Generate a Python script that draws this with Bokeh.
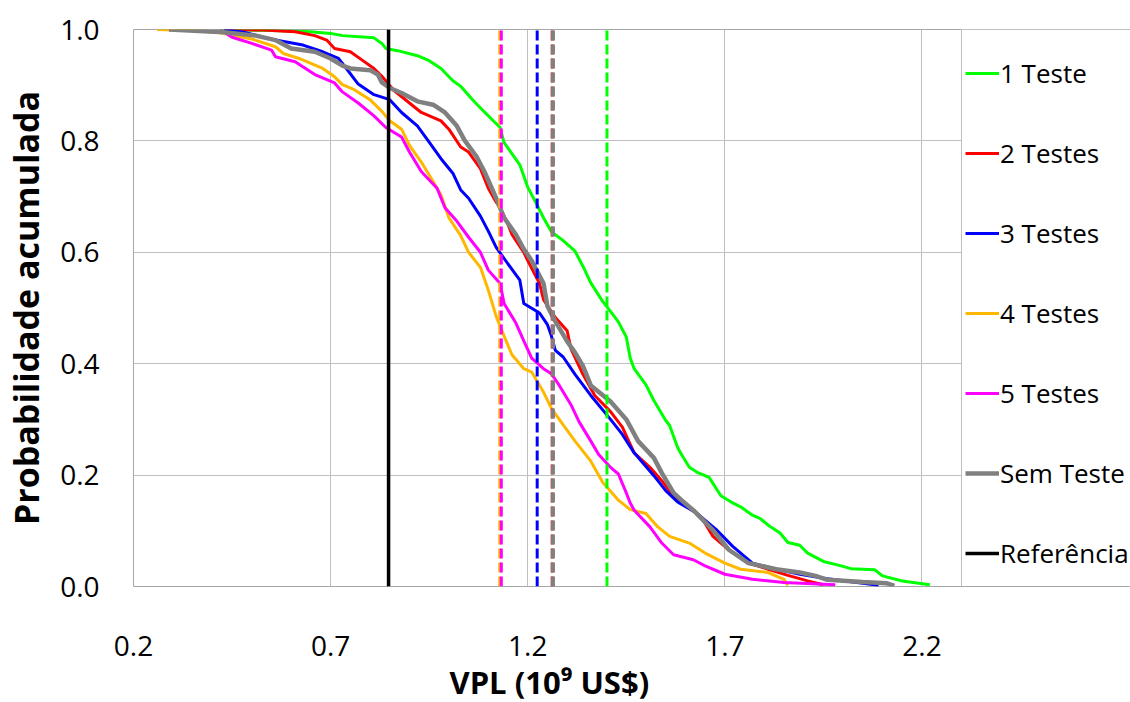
from bokeh.plotting import figure
from bokeh.models import Range1d, FixedTicker, NumeralTickFormatter, Legend, LegendItem, Title
from bokeh.embed import file_html
from bokeh.resources import INLINE

# ---------------- data ----------------
x_ticks = [0.2, 0.7, 1.2, 1.7, 2.2]
y_ticks = [0.0, 0.2, 0.4, 0.6, 0.8, 1.0]

names = ["1 Teste", "2 Testes", "3 Testes", "4 Testes", "5 Testes", "Sem Teste"]
colors = ["#00ff00", "#ff0000", "#0000ff", "#ffb800", "#ff00ff", "#808080"]

x_1teste = [0.42, 0.55, 0.65, 0.70, 0.73, 0.81, 0.83, 0.84, 0.87, 0.92, 0.95, 0.98, 1.01, 1.03, 1.06,
            1.09, 1.11, 1.13, 1.14, 1.18, 1.20, 1.22, 1.24, 1.26, 1.29, 1.32, 1.34, 1.36, 1.39, 1.41,
            1.43, 1.45, 1.46, 1.47, 1.50, 1.52, 1.55, 1.56, 1.58, 1.59, 1.61, 1.63, 1.66, 1.69, 1.72,
            1.74, 1.77, 1.79, 1.81, 1.84, 1.86, 1.89, 1.91, 1.95, 1.99, 2.02, 2.08, 2.10, 2.15, 2.22]
y_1teste = [1.0, 0.998, 0.996, 0.993, 0.989, 0.985, 0.975, 0.966, 0.962, 0.953, 0.944, 0.930, 0.908,
            0.898, 0.874, 0.852, 0.838, 0.824, 0.797, 0.757, 0.717, 0.690, 0.662, 0.637, 0.621, 0.602,
            0.575, 0.545, 0.512, 0.494, 0.475, 0.448, 0.410, 0.391, 0.362, 0.334, 0.298, 0.289, 0.250,
            0.237, 0.214, 0.205, 0.196, 0.163, 0.150, 0.143, 0.128, 0.122, 0.110, 0.096, 0.079, 0.074,
            0.060, 0.045, 0.038, 0.032, 0.030, 0.019, 0.010, 0.003]

x_2testes = [0.43, 0.53, 0.61, 0.66, 0.69, 0.71, 0.75, 0.78, 0.81, 0.83, 0.86, 0.90, 0.93, 0.98, 1.00,
             1.03, 1.05, 1.08, 1.10, 1.12, 1.13, 1.15, 1.16, 1.19, 1.20, 1.23, 1.24, 1.27, 1.30, 1.31,
             1.34, 1.37, 1.41, 1.44, 1.47, 1.51, 1.54, 1.57, 1.60, 1.64, 1.67, 1.71, 1.76, 1.81, 1.86,
             1.91, 1.95]
y_2testes = [1.0, 0.999, 0.996, 0.989, 0.981, 0.966, 0.960, 0.945, 0.930, 0.916, 0.891, 0.868, 0.851,
             0.836, 0.821, 0.789, 0.780, 0.750, 0.715, 0.690, 0.680, 0.650, 0.632, 0.600, 0.585, 0.544,
             0.515, 0.483, 0.459, 0.426, 0.381, 0.343, 0.314, 0.286, 0.240, 0.214, 0.190, 0.162, 0.147,
             0.125, 0.090, 0.066, 0.042, 0.031, 0.020, 0.010, 0.003]

x_3testes = [0.43, 0.48, 0.56, 0.63, 0.68, 0.72, 0.74, 0.77, 0.81, 0.85, 0.88, 0.92, 0.95, 0.98, 1.01,
             1.03, 1.05, 1.08, 1.10, 1.12, 1.15, 1.18, 1.19, 1.23, 1.25, 1.26, 1.27, 1.29, 1.32, 1.36,
             1.41, 1.44, 1.47, 1.52, 1.55, 1.58, 1.63, 1.68, 1.72, 1.77, 1.85, 1.89, 1.96, 2.05, 2.09]
y_3testes = [1.0, 0.995, 0.981, 0.972, 0.960, 0.948, 0.930, 0.902, 0.883, 0.874, 0.851, 0.827, 0.798,
             0.768, 0.742, 0.712, 0.697, 0.665, 0.638, 0.609, 0.579, 0.550, 0.508, 0.491, 0.470, 0.450,
             0.424, 0.412, 0.381, 0.343, 0.300, 0.273, 0.240, 0.199, 0.172, 0.152, 0.131, 0.101, 0.072,
             0.042, 0.028, 0.022, 0.014, 0.006, 0.002]

x_4testes = [0.26, 0.35, 0.42, 0.50, 0.56, 0.58, 0.62, 0.68, 0.71, 0.73, 0.76, 0.80, 0.83, 0.85, 0.88,
             0.90, 0.93, 0.96, 0.98, 1.00, 1.03, 1.05, 1.08, 1.10, 1.12, 1.14, 1.16, 1.19, 1.21, 1.24,
             1.26, 1.29, 1.32, 1.36, 1.39, 1.43, 1.46, 1.50, 1.53, 1.56, 1.61, 1.65, 1.70, 1.74, 1.81,
             1.85, 1.86]
y_4testes = [1.0, 0.998, 0.994, 0.983, 0.969, 0.957, 0.948, 0.930, 0.915, 0.901, 0.892, 0.874, 0.853,
             0.836, 0.821, 0.792, 0.762, 0.727, 0.703, 0.662, 0.630, 0.600, 0.573, 0.532, 0.485, 0.450,
             0.416, 0.391, 0.385, 0.349, 0.320, 0.290, 0.261, 0.225, 0.187, 0.155, 0.138, 0.131, 0.107,
             0.090, 0.078, 0.060, 0.042, 0.031, 0.025, 0.013, 0.002]

x_5testes = [0.42, 0.45, 0.50, 0.55, 0.56, 0.61, 0.66, 0.71, 0.73, 0.77, 0.81, 0.84, 0.88, 0.90, 0.93,
             0.97, 0.99, 1.02, 1.05, 1.08, 1.10, 1.13, 1.14, 1.17, 1.19, 1.21, 1.24, 1.26, 1.28, 1.31,
             1.33, 1.36, 1.38, 1.41, 1.43, 1.45, 1.46, 1.47, 1.51, 1.54, 1.57, 1.62, 1.65, 1.70, 1.77,
             1.85, 1.98]
y_5testes = [1.0, 0.986, 0.975, 0.963, 0.951, 0.942, 0.919, 0.904, 0.888, 0.868, 0.845, 0.824, 0.807,
             0.780, 0.745, 0.715, 0.680, 0.656, 0.627, 0.600, 0.568, 0.544, 0.508, 0.473, 0.441, 0.410,
             0.391, 0.382, 0.361, 0.326, 0.296, 0.261, 0.237, 0.214, 0.202, 0.168, 0.150, 0.137, 0.107,
             0.078, 0.057, 0.048, 0.037, 0.022, 0.013, 0.007, 0.003]

x_semteste = [0.29, 0.43, 0.51, 0.56, 0.60, 0.66, 0.70, 0.73, 0.75, 0.80, 0.82, 0.83, 0.85, 0.88, 0.92,
              0.96, 0.99, 1.02, 1.04, 1.07, 1.09, 1.12, 1.14, 1.17, 1.19, 1.21, 1.24, 1.25, 1.27, 1.30,
              1.32, 1.34, 1.36, 1.41, 1.45, 1.48, 1.52, 1.54, 1.57, 1.59, 1.62, 1.67, 1.71, 1.76, 1.83,
              1.89, 1.93, 1.96, 2.05, 2.11, 2.13]
y_semteste = [1.0, 0.995, 0.989, 0.981, 0.966, 0.960, 0.948, 0.935, 0.930, 0.927, 0.919, 0.905, 0.895,
              0.886, 0.871, 0.865, 0.851, 0.827, 0.801, 0.772, 0.745, 0.697, 0.662, 0.632, 0.606, 0.585,
              0.544, 0.503, 0.476, 0.440, 0.420, 0.396, 0.361, 0.332, 0.300, 0.261, 0.231, 0.204, 0.168,
              0.155, 0.137, 0.101, 0.066, 0.042, 0.031, 0.025, 0.019, 0.012, 0.008, 0.006, 0.001]

# mean VPL of each case (dashed lines) and reference value (solid black)
means = [1.401, 1.262, 1.224, 1.129, 1.133, 1.264]
referencia = 0.847
ref_label = "Referência"
x_label = "VPL (10⁹ US$)"
y_label = "Probabilidade acumulada"

xs = [x_1teste, x_2testes, x_3testes, x_4testes, x_5testes, x_semteste]
ys = [y_1teste, y_2testes, y_3testes, y_4testes, y_5testes, y_semteste]

# ---------------- figure ----------------
# plot area runs under the legend box (as in the spreadsheet original)
p = figure(width=1130, height=702, output_backend="svg", toolbar_location=None,
           x_range=Range1d(0.2, 2.729), y_range=Range1d(0.0, 1.0),
           min_border_left=130, min_border_top=29, min_border_bottom=108, min_border_right=0)
p.background_fill_color = "white"
p.border_fill_color = "white"
p.outline_line_color = "#a6a6a6"
p.outline_line_width = 1

grid_color = "#bfbfbf"
p.xgrid.grid_line_color = grid_color
p.ygrid.grid_line_color = grid_color

font = "Open Sans"
for ax in (p.xaxis[0], p.yaxis[0]):
    ax.axis_line_color = None
    ax.major_tick_line_color = None
    ax.minor_tick_line_color = None
    ax.major_label_text_font = font
    ax.major_label_text_font_size = "28px"
    ax.major_label_text_color = "black"
    ax.axis_label_text_font = font
    ax.axis_label_text_font_style = "bold"
    ax.axis_label_text_color = "black"
    ax.formatter = NumeralTickFormatter(format="0.0")

p.yaxis.axis_label_text_font_size = "34px"
p.xaxis.ticker = FixedTicker(ticks=x_ticks)
p.yaxis.ticker = FixedTicker(ticks=y_ticks)
p.xgrid.ticker = FixedTicker(ticks=x_ticks)
p.ygrid.ticker = FixedTicker(ticks=y_ticks)
p.yaxis.axis_label = y_label
p.xaxis.major_label_standoff = 43
p.yaxis.major_label_standoff = 28
p.yaxis.axis_label_standoff = 8

# x-axis title, placed under the visible part of the plot (left of the legend box)
xt = Title(text=x_label, align="left", offset=316, standoff=0,
           text_font=font, text_font_size="31px", text_font_style="bold", text_color="black")
p.add_layout(xt, "below")

items = []
for name, c, x, y in zip(names, colors, xs, ys):
    lw = 4.5 if name == "Sem Teste" else 3
    r = p.line(x, y, line_color=c, line_width=lw)
    items.append(LegendItem(label=name, renderers=[r]))

for m, c, name in zip(means, colors, names):
    lw = 4 if name == "Sem Teste" else 3
    p.line([m, m], [y_ticks[0], y_ticks[-1]], line_color=c, line_width=lw, line_dash="10 4")

r_ref = p.line([referencia, referencia], [y_ticks[0], y_ticks[-1]], line_color="black", line_width=3.5)
items.append(LegendItem(label=ref_label, renderers=[r_ref]))

legend = Legend(items=items, location=(828, -11), orientation="vertical",
                glyph_width=34, glyph_height=80, label_height=80, label_width=130,
                spacing=0, padding=3, margin=0, label_standoff=1,
                label_text_font=font, label_text_font_size="26px", label_text_color="black",
                border_line_color="#808080", border_line_width=1,
                background_fill_color="white", background_fill_alpha=1.0)
p.add_layout(legend, "center")

open("out.html", "w").write(file_html(p, INLINE))
